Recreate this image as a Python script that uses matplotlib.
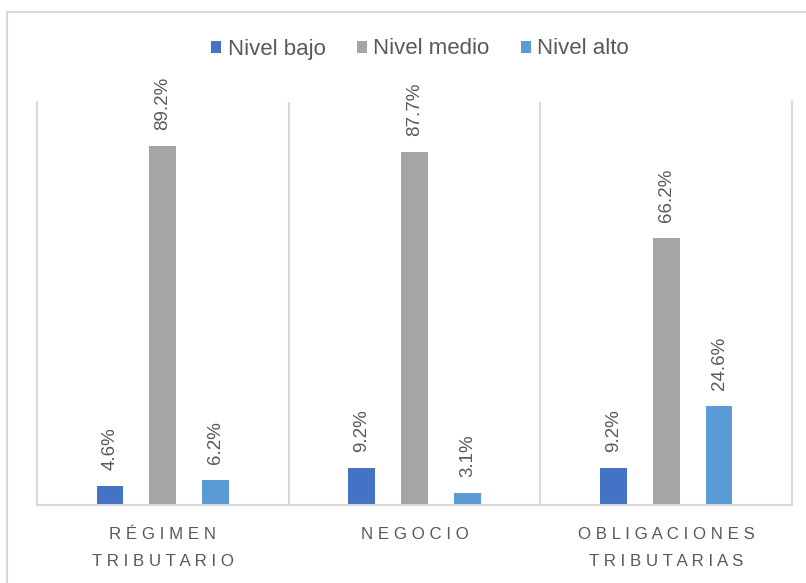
import matplotlib.pyplot as plt
import matplotlib.patches as patches
import numpy as np

# datos del grafico
categorias = ['RÉGIMEN\nTRIBUTARIO', 'NEGOCIO', 'OBLIGACIONES\nTRIBUTARIAS']
series = ['Nivel bajo', 'Nivel medio', 'Nivel alto']
nivel_bajo = [4.6, 9.2, 9.2]
nivel_medio = [89.2, 87.7, 66.2]
nivel_alto = [6.2, 3.1, 24.6]

colores = ['#4472C4', '#A5A5A5', '#5B9BD5']
gris_texto = '#595959'
gris_linea = '#D9D9D9'

plt.rcParams['font.family'] = ['Liberation Sans', 'DejaVu Sans']

fig = plt.figure(figsize=(8.06, 5.83), dpi=100)
ax = fig.add_axes([37 / 806, 78 / 583, 755 / 806, 403 / 583])

x = np.arange(len(categorias))
ancho = 0.107
offsets = [-0.21, 0, 0.21]
for valores, nombre, color, off in zip([nivel_bajo, nivel_medio, nivel_alto], series, colores, offsets):
    barras = ax.bar(x + off, valores, width=ancho, color=color, label=nombre)
    for b, v in zip(barras, valores):
        ax.annotate(f'{v:.1f}%', (b.get_x() + b.get_width() / 2, v),
                    xytext=(0, 11.5), textcoords='offset points',
                    rotation=90, ha='center', va='bottom',
                    fontsize=13.5, color=gris_texto, annotation_clip=False)

# separadores entre categorias
for s in [0.5, 1.5]:
    ax.axvline(s, color=gris_linea, lw=1.5)

ax.set_xlim(-0.5, 2.5)
ax.set_ylim(0, 100)
ax.set_yticks([])
ax.set_xticks(x)
# etiquetas con espaciado entre letras
etiquetas = ['\n'.join(' '.join(linea) for linea in c.split('\n')) for c in categorias]
ax.set_xticklabels(etiquetas, fontsize=12.2, color=gris_texto, linespacing=1.95)
ax.tick_params(axis='x', length=0, pad=16)
for lado in ['left', 'right', 'bottom']:
    ax.spines[lado].set_color(gris_linea)
    ax.spines[lado].set_linewidth(1.5)
ax.spines['top'].set_visible(False)

leg = fig.legend(loc='center', bbox_to_anchor=(420 / 806, 1 - 49 / 583), ncol=3,
                 frameon=False, fontsize=16, handlelength=0.45, handleheight=0.45,
                 handletextpad=0.3, columnspacing=1.4)
for t in leg.get_texts():
    t.set_color(gris_texto)

# borde del grafico
fig.patches.append(patches.Rectangle((7 / 806, -0.05), 1.2, 1 - 12 / 583 + 0.05,
                                     transform=fig.transFigure, fill=False,
                                     edgecolor=gris_linea, lw=1.5))

fig.savefig('out.png', dpi=100)
